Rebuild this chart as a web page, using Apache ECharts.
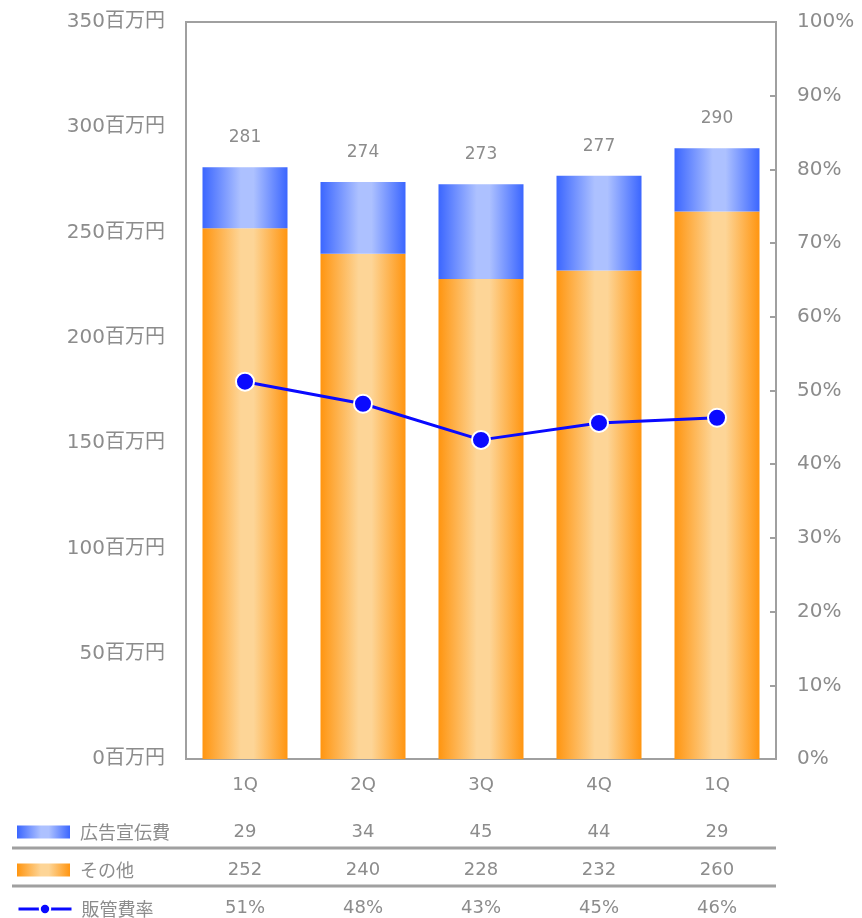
<!DOCTYPE html>
<html>
<head>
<meta charset="utf-8">
<script src="https://cdn.jsdelivr.net/npm/echarts@6/dist/echarts.min.js"></script>
<style>
  html, body { margin: 0; padding: 0; background: #fff; }
  #main { width: 862px; height: 918px; }
</style>
</head>
<body>
<div id="main"></div>
<script>
// data
var categories = ["1Q", "2Q", "3Q", "4Q", "1Q"];
var totals = [281, 274, 273, 277, 290];    // bar totals (labels above bars)
var adCost = [29, 34, 45, 44, 29];         // 広告宣伝費 (table)
var otherCost = [252, 240, 228, 232, 260]; // その他
var sgaRatio = [51.2, 48.2, 43.3, 45.6, 46.3]; // 販管費率 (%)
var ratioLabels = ["51%", "48%", "43%", "45%", "46%"];

var gray = "#8c8c8c";
var font = "'DejaVu Sans', 'Noto Sans CJK JP', sans-serif";
var cjk = "'Noto Sans CJK JP', sans-serif";

function hGrad(edge, mid) {
  return new echarts.graphic.LinearGradient(0, 0, 1, 0, [
    { offset: 0, color: edge },
    { offset: 0.45, color: mid },
    { offset: 0.6, color: mid },
    { offset: 1, color: edge }
  ]);
}

// top segment fills the bar up to the printed total
var adBar = totals.map(function (t, i) { return t - otherCost[i]; });

function legendRow(name, top, icon) {
  var row = {
    left: 17, top: top, padding: 0,
    itemWidth: 53, itemHeight: 13,
    textStyle: { color: gray, fontSize: 18, fontFamily: cjk, padding: [0, 0, 0, 5] },
    data: [name]
  };
  if (icon) row.icon = icon;
  else row.lineStyle = { width: 3 };
  return row;
}

var chart = echarts.init(document.getElementById("main"));
chart.setOption({
  animation: false,
  textStyle: { fontFamily: font },
  grid: { left: 186, right: 86, top: 22, bottom: 159, show: true, borderColor: "#a0a0a0", borderWidth: 2 },
  legend: [
    legendRow("広告宣伝費", 823, "rect"),
    legendRow("その他", 861, "rect"),
    legendRow("販管費率", 900)
  ],
  xAxis: {
    type: "category",
    data: categories,
    axisLine: { lineStyle: { color: "#a0a0a0", width: 2 } },
    axisTick: { show: false },
    axisLabel: { color: gray, fontSize: 18, margin: 17, fontFamily: font }
  },
  yAxis: [
    {
      type: "value", min: 0, max: 350, interval: 50,
      axisLine: { show: true, lineStyle: { color: "#a0a0a0", width: 2 } },
      axisTick: { show: false },
      splitLine: { show: false },
      axisLabel: { color: gray, fontSize: 20, margin: 21, fontFamily: font, formatter: "{value}百万円" }
    },
    {
      type: "value", min: 0, max: 100, interval: 10,
      axisLine: { show: true, lineStyle: { color: "#a0a0a0", width: 2 } },
      axisTick: { show: true, inside: true, length: 6, lineStyle: { color: "#a0a0a0", width: 2 } },
      splitLine: { show: false },
      axisLabel: { color: gray, fontSize: 20, margin: 21, fontFamily: font, formatter: "{value}%" }
    }
  ],
  series: [
    {
      name: "その他",
      type: "bar",
      stack: "cost",
      barWidth: 85,
      data: otherCost,
      itemStyle: { color: hGrad("#ff9510", "#fdd597") }
    },
    {
      name: "広告宣伝費",
      type: "bar",
      stack: "cost",
      barWidth: 85,
      data: adBar,
      itemStyle: { color: hGrad("#3b66ff", "#adc1ff") },
      label: {
        show: true,
        position: "top",
        distance: 21,
        color: gray,
        fontSize: 17,
        fontFamily: font,
        formatter: function (p) { return totals[p.dataIndex]; }
      }
    },
    {
      name: "販管費率",
      type: "line",
      yAxisIndex: 1,
      data: sgaRatio,
      symbol: "circle",
      symbolSize: 18,
      lineStyle: { color: "#0a0aff", width: 3 },
      itemStyle: { color: "#0a0aff", borderColor: "#fff", borderWidth: 2 }
    }
  ]
});

// data table under the chart, placed from the category axis
var rows = [
  { y: 832, vals: adCost },
  { y: 870, vals: otherCost },
  { y: 908, vals: ratioLabels }
];
var elements = [];
rows.forEach(function (row) {
  row.vals.forEach(function (v, i) {
    var x = chart.convertToPixel({ xAxisIndex: 0 }, i);
    elements.push({
      type: "text",
      x: x, y: row.y,
      style: { text: String(v), fill: gray, font: "18px " + font, align: "center", verticalAlign: "middle" }
    });
  });
});
[848, 886].forEach(function (y) {
  elements.push({
    type: "line",
    shape: { x1: 12, y1: y, x2: 776, y2: y },
    style: { stroke: "#a0a0a0", lineWidth: 3 }
  });
});
chart.setOption({ graphic: elements });
</script>
</body>
</html>
